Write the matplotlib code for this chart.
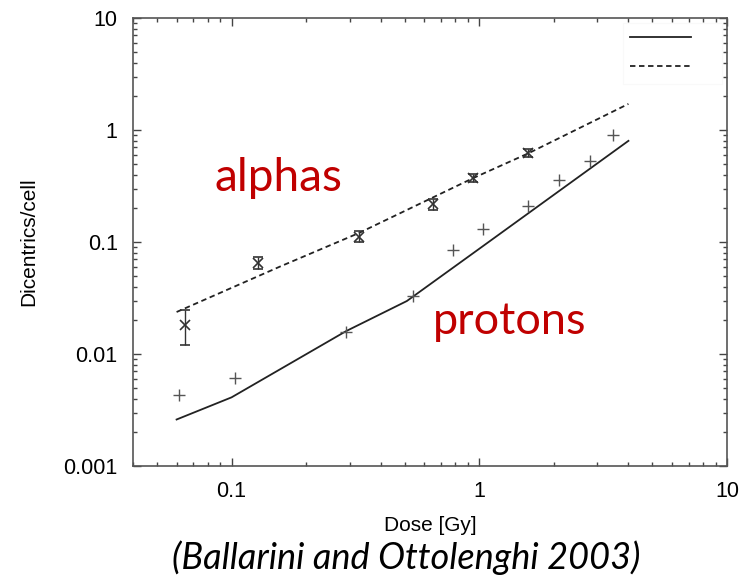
import numpy as np
import matplotlib.pyplot as plt
from matplotlib.lines import Line2D
from matplotlib.ticker import LogLocator, NullFormatter, FixedLocator, FixedFormatter

# model curves
alpha_curve_x = [0.06, 0.156, 0.326, 0.94, 1.58, 4.0]
alpha_curve_y = [0.0237, 0.060, 0.120, 0.37, 0.62, 1.71]
proton_curve_x = [0.06, 0.1, 0.29, 0.51, 1.0, 4.0]
proton_curve_y = [0.0026, 0.0041, 0.0160, 0.0297, 0.087, 0.80]

# experimental points
alpha_x = [0.0646, 0.128, 0.326, 0.649, 0.94, 1.58]
alpha_y = [0.0182, 0.065, 0.111, 0.218, 0.373, 0.623]
alpha_err_lo = [0.0062, 0.008, 0.012, 0.024, 0.03, 0.045]
alpha_err_hi = [0.0065, 0.009, 0.014, 0.026, 0.032, 0.05]
proton_x = [0.0616, 0.103, 0.29, 0.538, 0.78, 1.04, 1.57, 2.09, 2.8, 3.46]
proton_y = [0.0043, 0.0061, 0.0157, 0.033, 0.085, 0.131, 0.21, 0.358, 0.53, 0.90]

plt.rcParams['font.family'] = ['Liberation Sans', 'DejaVu Sans']

fig = plt.figure(figsize=(7.42, 5.75), dpi=100)
ax = fig.add_axes([0.1792, 0.1896, 0.8006, 0.7791])

ax.plot(proton_curve_x, proton_curve_y, color='#222222', lw=1.3)
ax.plot(alpha_curve_x, alpha_curve_y, color='#222222', lw=1.3, ls=(0, (3, 2)))
ax.errorbar(alpha_x, alpha_y, yerr=[alpha_err_lo, alpha_err_hi], fmt='x', color='#333333',
            ms=7, mew=1.2, elinewidth=1.0, capsize=3.5, capthick=1.0)
ax.plot(proton_x, proton_y, '+', color='#555555', ms=9, mew=1.0)

ax.set_xscale('log')
ax.set_yscale('log')
ax.set_xlim(0.04, 10)
ax.set_ylim(0.001, 10)

ax.xaxis.set_major_locator(FixedLocator([0.1, 1, 10]))
ax.xaxis.set_major_formatter(FixedFormatter(['0.1', '1', '10']))
ax.yaxis.set_major_locator(FixedLocator([0.001, 0.01, 0.1, 1, 10]))
ax.yaxis.set_major_formatter(FixedFormatter(['0.001', '0.01', '0.1', '1', '10']))
ax.xaxis.set_minor_locator(LogLocator(base=10, subs=np.arange(2, 10)))
ax.yaxis.set_minor_locator(LogLocator(base=10, subs=np.arange(2, 10)))
ax.xaxis.set_minor_formatter(NullFormatter())
ax.yaxis.set_minor_formatter(NullFormatter())

ax.tick_params(which='both', direction='in', top=True, right=True, color='#444444')
ax.tick_params(which='major', length=6, width=1, labelsize=15.5, pad=11)
ax.tick_params(which='minor', length=3, width=1)
for s in ax.spines.values():
    s.set_color('#555555')
    s.set_linewidth(1.2)

ax.set_xlabel('Dose [Gy]', fontsize=15, labelpad=10)
ax.set_ylabel('Dicentrics/cell', fontsize=15, labelpad=18)

handles = [Line2D([], [], color='#222222', lw=1.3),
           Line2D([], [], color='#222222', lw=1.3, ls=(0, (3, 2)))]
leg = ax.legend(handles, [' ', ' '], loc='upper right', handlelength=3.4,
                fontsize=13, frameon=True, fancybox=False, borderaxespad=0.3,
                labelspacing=0.65, handletextpad=1.0, borderpad=0.4)
leg.get_frame().set_edgecolor('#f8f8f8')
leg.get_frame().set_linewidth(0.8)

fig.text(0.375, 0.69, 'alphas', ha='center', va='center',
         fontsize=33, color='#C00000', family=['Lato', 'DejaVu Sans'])
fig.text(0.687, 0.44, 'protons', ha='center', va='center',
         fontsize=32.5, color='#C00000', family=['Lato', 'DejaVu Sans'])
fig.text(0.547, 0.031, '(Ballarini and Ottolenghi 2003)', ha='center', va='center',
         fontsize=26, style='italic', color='black', family=['Lato', 'DejaVu Sans'])

fig.savefig('out.png', dpi=100)
